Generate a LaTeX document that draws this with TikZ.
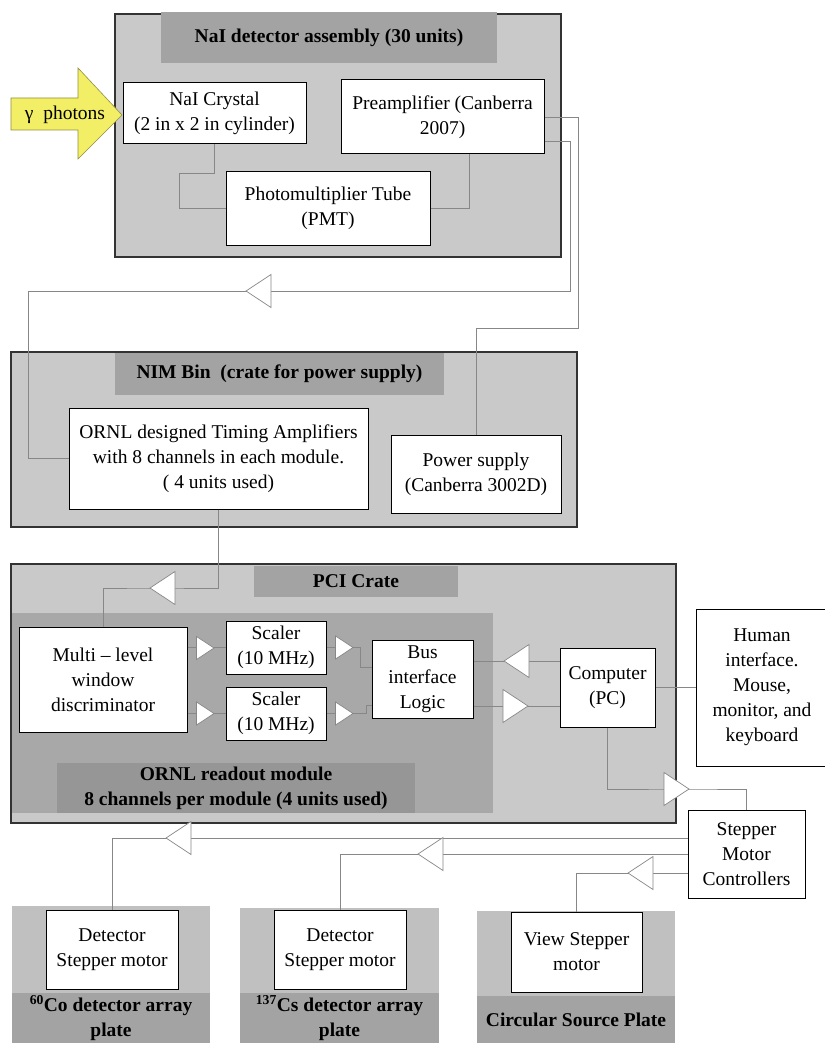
\documentclass[tikz,border=0pt]{standalone}
\usepackage{fontspec}
\setmainfont{Liberation Serif}
\usetikzlibrary{positioning, calc}

\definecolor{crategray}{RGB}{201,201,201}
\definecolor{titlegray}{RGB}{163,163,163}
\definecolor{modgray}{RGB}{168,168,168}
\definecolor{labelgray}{RGB}{150,150,150}
\definecolor{plategray}{RGB}{192,192,192}
\definecolor{wiregray}{RGB}{135,135,135}
\definecolor{photonyellow}{RGB}{242,238,102}

\newcommand{\boxfont}{\fontsize{19.5}{25}\selectfont}
\newcommand{\bandfont}{\fontsize{19.5}{25}\selectfont\bfseries}

\begin{document}
\begin{tikzpicture}[x=1pt, y=-1pt,
    crate/.style={draw=black!80, line width=1.2pt, fill=crategray},
    band/.style={fill=titlegray, inner sep=0pt, align=center, font=\bandfont},
    box/.style={draw=black, line width=1pt, fill=white, inner sep=1pt, align=center, font=\boxfont},
    wire/.style={draw=wiregray, line width=0.8pt},
    tri/.style={draw=wiregray, line width=0.7pt, fill=white},
    triL/.pic={\draw[tri] (0,0) -- (25,-16.5) -- (25,16.5) -- cycle;},
    triR/.pic={\draw[tri] (0,0) -- (-25,-16.5) -- (-25,16.5) -- cycle;}]
\useasboundingbox[fill=white] (0,0) rectangle (824,1043);

% NaI detector assembly
\node[crate, minimum width=446pt, minimum height=243pt] (naiframe) at (338,135.5) {};
\node[band, minimum width=336pt, minimum height=51pt] (naititle) at (329,37.5) {NaI detector assembly (30 units)};
\node[box, minimum width=183pt, minimum height=61pt] (crystal) at (214.5,113.5) {NaI Crystal\\(2 in x 2 in cylinder)};
\node[box, minimum width=203pt, minimum height=74pt] (pre) at (442.5,117) {Preamplifier (Canberra\\2007)};
\node[box, minimum width=204pt, minimum height=73pt] (pmt) at (328,208.5) {Photomultiplier Tube\\(PMT)};

% incoming photons
\draw[fill=photonyellow, draw=photonyellow!60!black, line width=0.6pt]
    (11,98) -- (78,98) -- (78,68) -- (122,115) -- (78,159) -- (78,130) -- (11,130) -- cycle;
\node[font=\boxfont] (gamma) at (65,115) {γ\ \ photons};

% NIM bin
\node[crate, minimum width=566pt, minimum height=175pt] (nimframe) at (294,439.5) {};
\node[band, minimum width=329pt, minimum height=42pt] (nimtitle) at (279.5,374) {NIM Bin\ \ (crate for power supply)};
\node[box, minimum width=299pt, minimum height=101pt] (amp) at (218.5,458.5) {ORNL designed Timing Amplifiers\\with 8 channels in each module.\\( 4 units used)};
\node[box, minimum width=170pt, minimum height=78pt] (psu) at (476,474) {Power supply\\(Canberra 3002D)};

% PCI crate
\node[crate, minimum width=665pt, minimum height=259pt] (pciframe) at (343.5,693.5) {};
\node[band, minimum width=204pt, minimum height=31pt] (pcititle) at (356,581) {PCI Crate};
\node[fill=modgray, minimum width=481pt, minimum height=200pt] (module) at (252.5,713) {};
\node[band, fill=labelgray, minimum width=358pt, minimum height=50pt] (modlabel) at (236,788) {ORNL readout module\\8 channels per module (4 units used)};
\node[box, minimum width=168pt, minimum height=105pt] (multi) at (103,679.5) {Multi -- level\\window\\discriminator};
\node[box, minimum width=100pt, minimum height=53pt] (scaler1) at (276,647.5) {Scaler\\(10 MHz)};
\node[box, minimum width=100pt, minimum height=53pt] (scaler2) at (276,713.5) {Scaler\\(10 MHz)};
\node[box, minimum width=101pt, minimum height=78pt] (bus) at (422.5,679) {Bus\\interface\\Logic};
\node[box, minimum width=95pt, minimum height=79pt] (pc) at (607.5,687.5) {Computer\\(PC)};
\node[box, minimum width=132pt, minimum height=157pt] (hmi) at (762,687.5) {Human\\interface.\\Mouse,\\monitor, and\\keyboard};
\node[box, minimum width=117pt, minimum height=88pt] (smc) at (746.5,854) {Stepper\\Motor\\Controllers};

% source plates
\node[fill=plategray, minimum width=198pt, minimum height=137pt] (plate1) at (111,974.5) {};
\node[band, minimum width=198pt, minimum height=50pt] (plate1label) at (111,1018) {\textsuperscript{60}Co detector array\\plate};
\node[box, minimum width=132pt, minimum height=79pt] (det1) at (112,949.5) {Detector\\Stepper motor};
\node[fill=plategray, minimum width=199pt, minimum height=135pt] (plate2) at (339.5,975.5) {};
\node[band, minimum width=199pt, minimum height=50pt] (plate2label) at (339.5,1018) {\textsuperscript{137}Cs detector array\\plate};
\node[box, minimum width=132pt, minimum height=79pt] (det2) at (340,949.5) {Detector\\Stepper motor};
\node[fill=plategray, minimum width=198pt, minimum height=132pt] (plate3) at (576,977) {};
\node[band, minimum width=198pt, minimum height=47pt] (plate3label) at (576,1019.5) {Circular Source Plate};
\node[box, minimum width=131pt, minimum height=80pt] (view) at (576.5,952) {View Stepper\\motor};

% connections
\draw[wire] (crystal.south) |- (179,173) |- (pmt.west);
\draw[wire] (pmt.east) -| ([xshift=26.5pt]pre.south);
\draw[wire] (pre.east) -| (578,328) -| (psu.north);
\draw[wire] ([yshift=-24pt]pre.east) -| (570,291) -| (28,458.5) -- (amp.west);
\draw[wire] (amp.south) |- (150,588) -| (multi.north);
\draw[wire] (multi.east |- scaler1.west) -- (scaler1.west);
\draw[wire] (multi.east |- scaler2.west) -- (scaler2.west);
\draw[wire] (scaler1.east) -- (360,647.5) |- ([yshift=12pt]bus.west);
\draw[wire] (scaler2.east) -- (366,713.5) |- ([yshift=-26pt]bus.west);
\draw[wire] ([yshift=18pt]bus.east) -- ([yshift=26.5pt]pc.west);
\draw[wire] ([yshift=-27pt]bus.east) -- ([yshift=-18.5pt]pc.west);
\draw[wire] (pc.east) -- (hmi.west);
\draw[wire] (pc.south) |- (689,789) -| (smc.north);
\draw[wire] ([yshift=16pt]smc.west) -| (det1.north);
\draw[wire] (smc.west) -| (det2.north);
\draw[wire] ([yshift=-19pt]smc.west) -| (view.north);

% arrow heads
\pic at (246,291) {triL};
\pic at (150,588) {triL};
\pic[scale=0.7] at (214,648) {triR};
\pic[scale=0.7] at (214,713.5) {triR};
\pic[scale=0.7] at (353,647.5) {triR};
\pic[scale=0.7] at (353,713.5) {triR};
\pic at (504,661) {triL};
\pic at (528,706) {triR};
\pic at (689,789) {triR};
\pic at (166,838) {triL};
\pic at (418,854) {triL};
\pic at (628,873) {triL};
\end{tikzpicture}
\end{document}
